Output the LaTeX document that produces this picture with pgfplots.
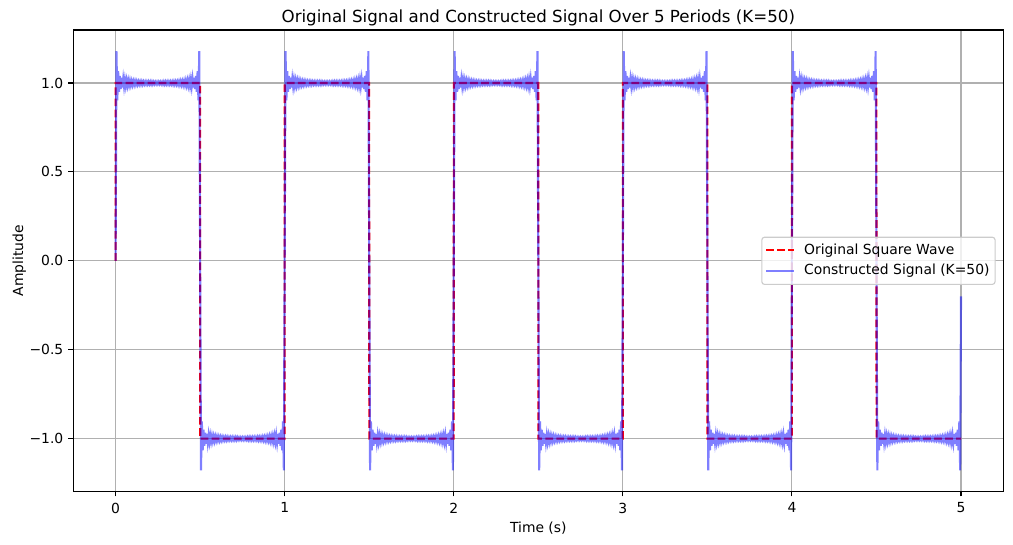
\documentclass[border=0pt]{standalone}
\usepackage{fontspec}
\setmainfont{DejaVu Sans}
\usepackage{pgfplots}
\pgfplotsset{compat=1.18}
\definecolor{gridgray}{RGB}{176,176,176}
\definecolor{legframe}{RGB}{204,204,204}
\begin{document}
\begin{tikzpicture}
\useasboundingbox (-52.8pt,-38.4pt) rectangle (676.6pt,354.0pt);
\begin{axis}[
  scale only axis,
  width=669.6pt, height=332.4pt,
  at={(0,0)}, anchor=south west,
  xmin=-0.25, xmax=5.25, ymin=-1.298, ymax=1.298,
  xtick={0,1,2,3,4,5}, xticklabels={0,1,2,3,4,5},
  ytick={-1,-0.5,0,0.5,1}, yticklabels={−1.0,−0.5,0.0,0.5,1.0},
  tick pos=left, tick align=outside, major tick length=3.5pt,
  tick style={black, line width=0.8pt},
  axis line style={black, line width=0.8pt},
  grid=major, major grid style={gridgray, line width=0.8pt},
  tick label style={font=\fontsize{10}{12}\selectfont},
  xticklabel style={inner sep=0pt, yshift=-4.3pt},
  yticklabel style={inner sep=0pt, xshift=-3.5pt},
  title={Original Signal and Constructed Signal Over 5 Periods (K=50)},
  every axis title/.style={at={(0.5,1.0165)}, anchor=base, inner sep=0pt, font=\fontsize{12}{14}\selectfont},
  xlabel={Time (s)},
  xlabel style={at={(axis description cs:0.5,-0.0887)}, anchor=base, inner sep=0pt, font=\fontsize{10}{12}\selectfont},
  ylabel={Amplitude},
  ylabel style={at={(axis description cs:-0.0541,0.5)}, anchor=base, inner sep=0pt, font=\fontsize{10}{12}\selectfont},
  legend cell align=left,
  legend image code/.code={\draw[#1] (0pt,0pt) -- (20pt,0pt);},
  legend style={at={(1,0.5)}, anchor=east, xshift=-5.5pt,
    draw=legframe, line width=0.8pt, rounded corners=2pt,
    fill=white, fill opacity=0.8, text opacity=1, draw opacity=1,
    inner xsep=2.5pt, inner ysep=3pt, row sep=2pt, column sep=5pt,
    font=\fontsize{10}{12}\selectfont,
    nodes={inner sep=1.5pt, text height=7.6pt, text depth=2.4pt}},
]
\addplot[red, line width=1.5pt, dash pattern=on 5.55pt off 2.4pt] coordinates {
(0,0)(0.0005,1)(0.4995,1)(0.5005,-1)(0.9995,-1)(1.0005,1)(1.4995,1)(1.5005,-1)(1.9995,-1)(2.0005,1)(2.4995,1)(2.5005,-1)(2.9995,-1)(3.0005,1)(3.4995,1)(3.5005,-1)(3.9995,-1)(4.0005,1)(4.4995,1)(4.5005,-1)(5,-1)
};
\addlegendentry{Original Square Wave}
\addplot[blue, line width=1.5pt, opacity=0.5] coordinates {
(0,0)(0.005,1.179)(0.01,0.903)(0.015,1.066)(0.02,0.95)(0.025,1.04)(0.03,0.966)(0.035,1.029)(0.04,0.974)(0.045,1.023)
(0.05,0.979)(0.055,1.019)(0.06,0.983)(0.065,1.016)(0.07,0.985)(0.075,1.014)(0.08,0.987)(0.085,1.013)(0.09,0.988)(0.095,1.011)
(0.1,0.989)(0.105,1.01)(0.11,0.99)(0.115,1.01)(0.12,0.991)(0.125,1.009)(0.13,0.991)(0.135,1.008)(0.14,0.992)(0.145,1.008)
(0.15,0.992)(0.155,1.008)(0.16,0.992)(0.165,1.007)(0.17,0.993)(0.175,1.007)(0.18,0.993)(0.185,1.007)(0.19,0.993)(0.195,1.007)
(0.2,0.993)(0.205,1.007)(0.21,0.993)(0.215,1.007)(0.22,0.993)(0.225,1.006)(0.23,0.994)(0.235,1.006)(0.24,0.994)(0.245,1.006)
(0.25,0.994)(0.255,1.006)(0.26,0.994)(0.265,1.006)(0.27,0.994)(0.275,1.006)(0.28,0.993)(0.285,1.007)(0.29,0.993)(0.295,1.007)
(0.3,0.993)(0.305,1.007)(0.31,0.993)(0.315,1.007)(0.32,0.993)(0.325,1.007)(0.33,0.993)(0.335,1.007)(0.34,0.992)(0.345,1.008)
(0.35,0.992)(0.355,1.008)(0.36,0.992)(0.365,1.008)(0.37,0.991)(0.375,1.009)(0.38,0.991)(0.385,1.01)(0.39,0.99)(0.395,1.01)
(0.4,0.989)(0.405,1.011)(0.41,0.988)(0.415,1.013)(0.42,0.987)(0.425,1.014)(0.43,0.985)(0.435,1.016)(0.44,0.983)(0.445,1.019)
(0.45,0.979)(0.455,1.023)(0.46,0.974)(0.465,1.029)(0.47,0.966)(0.475,1.04)(0.48,0.95)(0.485,1.066)(0.49,0.903)(0.495,1.179)
(0.5,0)(0.505,-1.179)(0.51,-0.903)(0.515,-1.066)(0.52,-0.95)(0.525,-1.04)(0.53,-0.966)(0.535,-1.029)(0.54,-0.974)(0.545,-1.023)
(0.55,-0.979)(0.555,-1.019)(0.56,-0.983)(0.565,-1.016)(0.57,-0.985)(0.575,-1.014)(0.58,-0.987)(0.585,-1.013)(0.59,-0.988)(0.595,-1.011)
(0.6,-0.989)(0.605,-1.01)(0.61,-0.99)(0.615,-1.01)(0.62,-0.991)(0.625,-1.009)(0.63,-0.991)(0.635,-1.008)(0.64,-0.992)(0.645,-1.008)
(0.65,-0.992)(0.655,-1.008)(0.66,-0.992)(0.665,-1.007)(0.67,-0.993)(0.675,-1.007)(0.68,-0.993)(0.685,-1.007)(0.69,-0.993)(0.695,-1.007)
(0.7,-0.993)(0.705,-1.007)(0.71,-0.993)(0.715,-1.007)(0.72,-0.993)(0.725,-1.006)(0.73,-0.994)(0.735,-1.006)(0.74,-0.994)(0.745,-1.006)
(0.75,-0.994)(0.755,-1.006)(0.76,-0.994)(0.765,-1.006)(0.77,-0.994)(0.775,-1.006)(0.78,-0.993)(0.785,-1.007)(0.79,-0.993)(0.795,-1.007)
(0.8,-0.993)(0.805,-1.007)(0.81,-0.993)(0.815,-1.007)(0.82,-0.993)(0.825,-1.007)(0.83,-0.993)(0.835,-1.007)(0.84,-0.992)(0.845,-1.008)
(0.85,-0.992)(0.855,-1.008)(0.86,-0.992)(0.865,-1.008)(0.87,-0.991)(0.875,-1.009)(0.88,-0.991)(0.885,-1.01)(0.89,-0.99)(0.895,-1.01)
(0.9,-0.989)(0.905,-1.011)(0.91,-0.988)(0.915,-1.013)(0.92,-0.987)(0.925,-1.014)(0.93,-0.985)(0.935,-1.016)(0.94,-0.983)(0.945,-1.019)
(0.95,-0.979)(0.955,-1.023)(0.96,-0.974)(0.965,-1.029)(0.97,-0.966)(0.975,-1.04)(0.98,-0.95)(0.985,-1.066)(0.99,-0.903)(0.995,-1.179)
(1,0)(1.005,1.179)(1.01,0.903)(1.015,1.066)(1.02,0.95)(1.025,1.04)(1.03,0.966)(1.035,1.029)(1.04,0.974)(1.045,1.023)
(1.05,0.979)(1.055,1.019)(1.06,0.983)(1.065,1.016)(1.07,0.985)(1.075,1.014)(1.08,0.987)(1.085,1.013)(1.09,0.988)(1.095,1.011)
(1.1,0.989)(1.105,1.01)(1.11,0.99)(1.115,1.01)(1.12,0.991)(1.125,1.009)(1.13,0.991)(1.135,1.008)(1.14,0.992)(1.145,1.008)
(1.15,0.992)(1.155,1.008)(1.16,0.992)(1.165,1.007)(1.17,0.993)(1.175,1.007)(1.18,0.993)(1.185,1.007)(1.19,0.993)(1.195,1.007)
(1.2,0.993)(1.205,1.007)(1.21,0.993)(1.215,1.007)(1.22,0.993)(1.225,1.006)(1.23,0.994)(1.235,1.006)(1.24,0.994)(1.245,1.006)
(1.25,0.994)(1.255,1.006)(1.26,0.994)(1.265,1.006)(1.27,0.994)(1.275,1.006)(1.28,0.993)(1.285,1.007)(1.29,0.993)(1.295,1.007)
(1.3,0.993)(1.305,1.007)(1.31,0.993)(1.315,1.007)(1.32,0.993)(1.325,1.007)(1.33,0.993)(1.335,1.007)(1.34,0.992)(1.345,1.008)
(1.35,0.992)(1.355,1.008)(1.36,0.992)(1.365,1.008)(1.37,0.991)(1.375,1.009)(1.38,0.991)(1.385,1.01)(1.39,0.99)(1.395,1.01)
(1.4,0.989)(1.405,1.011)(1.41,0.988)(1.415,1.013)(1.42,0.987)(1.425,1.014)(1.43,0.985)(1.435,1.016)(1.44,0.983)(1.445,1.019)
(1.45,0.979)(1.455,1.023)(1.46,0.974)(1.465,1.029)(1.47,0.966)(1.475,1.04)(1.48,0.95)(1.485,1.066)(1.49,0.903)(1.495,1.179)
(1.5,0)(1.505,-1.179)(1.51,-0.903)(1.515,-1.066)(1.52,-0.95)(1.525,-1.04)(1.53,-0.966)(1.535,-1.029)(1.54,-0.974)(1.545,-1.023)
(1.55,-0.979)(1.555,-1.019)(1.56,-0.983)(1.565,-1.016)(1.57,-0.985)(1.575,-1.014)(1.58,-0.987)(1.585,-1.013)(1.59,-0.988)(1.595,-1.011)
(1.6,-0.989)(1.605,-1.01)(1.61,-0.99)(1.615,-1.01)(1.62,-0.991)(1.625,-1.009)(1.63,-0.991)(1.635,-1.008)(1.64,-0.992)(1.645,-1.008)
(1.65,-0.992)(1.655,-1.008)(1.66,-0.992)(1.665,-1.007)(1.67,-0.993)(1.675,-1.007)(1.68,-0.993)(1.685,-1.007)(1.69,-0.993)(1.695,-1.007)
(1.7,-0.993)(1.705,-1.007)(1.71,-0.993)(1.715,-1.007)(1.72,-0.993)(1.725,-1.006)(1.73,-0.994)(1.735,-1.006)(1.74,-0.994)(1.745,-1.006)
(1.75,-0.994)(1.755,-1.006)(1.76,-0.994)(1.765,-1.006)(1.77,-0.994)(1.775,-1.006)(1.78,-0.993)(1.785,-1.007)(1.79,-0.993)(1.795,-1.007)
(1.8,-0.993)(1.805,-1.007)(1.81,-0.993)(1.815,-1.007)(1.82,-0.993)(1.825,-1.007)(1.83,-0.993)(1.835,-1.007)(1.84,-0.992)(1.845,-1.008)
(1.85,-0.992)(1.855,-1.008)(1.86,-0.992)(1.865,-1.008)(1.87,-0.991)(1.875,-1.009)(1.88,-0.991)(1.885,-1.01)(1.89,-0.99)(1.895,-1.01)
(1.9,-0.989)(1.905,-1.011)(1.91,-0.988)(1.915,-1.013)(1.92,-0.987)(1.925,-1.014)(1.93,-0.985)(1.935,-1.016)(1.94,-0.983)(1.945,-1.019)
(1.95,-0.979)(1.955,-1.023)(1.96,-0.974)(1.965,-1.029)(1.97,-0.966)(1.975,-1.04)(1.98,-0.95)(1.985,-1.066)(1.99,-0.903)(1.995,-1.179)
(2,0)(2.005,1.179)(2.01,0.903)(2.015,1.066)(2.02,0.95)(2.025,1.04)(2.03,0.966)(2.035,1.029)(2.04,0.974)(2.045,1.023)
(2.05,0.979)(2.055,1.019)(2.06,0.983)(2.065,1.016)(2.07,0.985)(2.075,1.014)(2.08,0.987)(2.085,1.013)(2.09,0.988)(2.095,1.011)
(2.1,0.989)(2.105,1.01)(2.11,0.99)(2.115,1.01)(2.12,0.991)(2.125,1.009)(2.13,0.991)(2.135,1.008)(2.14,0.992)(2.145,1.008)
(2.15,0.992)(2.155,1.008)(2.16,0.992)(2.165,1.007)(2.17,0.993)(2.175,1.007)(2.18,0.993)(2.185,1.007)(2.19,0.993)(2.195,1.007)
(2.2,0.993)(2.205,1.007)(2.21,0.993)(2.215,1.007)(2.22,0.993)(2.225,1.006)(2.23,0.994)(2.235,1.006)(2.24,0.994)(2.245,1.006)
(2.25,0.994)(2.255,1.006)(2.26,0.994)(2.265,1.006)(2.27,0.994)(2.275,1.006)(2.28,0.993)(2.285,1.007)(2.29,0.993)(2.295,1.007)
(2.3,0.993)(2.305,1.007)(2.31,0.993)(2.315,1.007)(2.32,0.993)(2.325,1.007)(2.33,0.993)(2.335,1.007)(2.34,0.992)(2.345,1.008)
(2.35,0.992)(2.355,1.008)(2.36,0.992)(2.365,1.008)(2.37,0.991)(2.375,1.009)(2.38,0.991)(2.385,1.01)(2.39,0.99)(2.395,1.01)
(2.4,0.989)(2.405,1.011)(2.41,0.988)(2.415,1.013)(2.42,0.987)(2.425,1.014)(2.43,0.985)(2.435,1.016)(2.44,0.983)(2.445,1.019)
(2.45,0.979)(2.455,1.023)(2.46,0.974)(2.465,1.029)(2.47,0.966)(2.475,1.04)(2.48,0.95)(2.485,1.066)(2.49,0.903)(2.495,1.179)
(2.5,0)(2.505,-1.179)(2.51,-0.903)(2.515,-1.066)(2.52,-0.95)(2.525,-1.04)(2.53,-0.966)(2.535,-1.029)(2.54,-0.974)(2.545,-1.023)
(2.55,-0.979)(2.555,-1.019)(2.56,-0.983)(2.565,-1.016)(2.57,-0.985)(2.575,-1.014)(2.58,-0.987)(2.585,-1.013)(2.59,-0.988)(2.595,-1.011)
(2.6,-0.989)(2.605,-1.01)(2.61,-0.99)(2.615,-1.01)(2.62,-0.991)(2.625,-1.009)(2.63,-0.991)(2.635,-1.008)(2.64,-0.992)(2.645,-1.008)
(2.65,-0.992)(2.655,-1.008)(2.66,-0.992)(2.665,-1.007)(2.67,-0.993)(2.675,-1.007)(2.68,-0.993)(2.685,-1.007)(2.69,-0.993)(2.695,-1.007)
(2.7,-0.993)(2.705,-1.007)(2.71,-0.993)(2.715,-1.007)(2.72,-0.993)(2.725,-1.006)(2.73,-0.994)(2.735,-1.006)(2.74,-0.994)(2.745,-1.006)
(2.75,-0.994)(2.755,-1.006)(2.76,-0.994)(2.765,-1.006)(2.77,-0.994)(2.775,-1.006)(2.78,-0.993)(2.785,-1.007)(2.79,-0.993)(2.795,-1.007)
(2.8,-0.993)(2.805,-1.007)(2.81,-0.993)(2.815,-1.007)(2.82,-0.993)(2.825,-1.007)(2.83,-0.993)(2.835,-1.007)(2.84,-0.992)(2.845,-1.008)
(2.85,-0.992)(2.855,-1.008)(2.86,-0.992)(2.865,-1.008)(2.87,-0.991)(2.875,-1.009)(2.88,-0.991)(2.885,-1.01)(2.89,-0.99)(2.895,-1.01)
(2.9,-0.989)(2.905,-1.011)(2.91,-0.988)(2.915,-1.013)(2.92,-0.987)(2.925,-1.014)(2.93,-0.985)(2.935,-1.016)(2.94,-0.983)(2.945,-1.019)
(2.95,-0.979)(2.955,-1.023)(2.96,-0.974)(2.965,-1.029)(2.97,-0.966)(2.975,-1.04)(2.98,-0.95)(2.985,-1.066)(2.99,-0.903)(2.995,-1.179)
(3,0)(3.005,1.179)(3.01,0.903)(3.015,1.066)(3.02,0.95)(3.025,1.04)(3.03,0.966)(3.035,1.029)(3.04,0.974)(3.045,1.023)
(3.05,0.979)(3.055,1.019)(3.06,0.983)(3.065,1.016)(3.07,0.985)(3.075,1.014)(3.08,0.987)(3.085,1.013)(3.09,0.988)(3.095,1.011)
(3.1,0.989)(3.105,1.01)(3.11,0.99)(3.115,1.01)(3.12,0.991)(3.125,1.009)(3.13,0.991)(3.135,1.008)(3.14,0.992)(3.145,1.008)
(3.15,0.992)(3.155,1.008)(3.16,0.992)(3.165,1.007)(3.17,0.993)(3.175,1.007)(3.18,0.993)(3.185,1.007)(3.19,0.993)(3.195,1.007)
(3.2,0.993)(3.205,1.007)(3.21,0.993)(3.215,1.007)(3.22,0.993)(3.225,1.006)(3.23,0.994)(3.235,1.006)(3.24,0.994)(3.245,1.006)
(3.25,0.994)(3.255,1.006)(3.26,0.994)(3.265,1.006)(3.27,0.994)(3.275,1.006)(3.28,0.993)(3.285,1.007)(3.29,0.993)(3.295,1.007)
(3.3,0.993)(3.305,1.007)(3.31,0.993)(3.315,1.007)(3.32,0.993)(3.325,1.007)(3.33,0.993)(3.335,1.007)(3.34,0.992)(3.345,1.008)
(3.35,0.992)(3.355,1.008)(3.36,0.992)(3.365,1.008)(3.37,0.991)(3.375,1.009)(3.38,0.991)(3.385,1.01)(3.39,0.99)(3.395,1.01)
(3.4,0.989)(3.405,1.011)(3.41,0.988)(3.415,1.013)(3.42,0.987)(3.425,1.014)(3.43,0.985)(3.435,1.016)(3.44,0.983)(3.445,1.019)
(3.45,0.979)(3.455,1.023)(3.46,0.974)(3.465,1.029)(3.47,0.966)(3.475,1.04)(3.48,0.95)(3.485,1.066)(3.49,0.903)(3.495,1.179)
(3.5,0)(3.505,-1.179)(3.51,-0.903)(3.515,-1.066)(3.52,-0.95)(3.525,-1.04)(3.53,-0.966)(3.535,-1.029)(3.54,-0.974)(3.545,-1.023)
(3.55,-0.979)(3.555,-1.019)(3.56,-0.983)(3.565,-1.016)(3.57,-0.985)(3.575,-1.014)(3.58,-0.987)(3.585,-1.013)(3.59,-0.988)(3.595,-1.011)
(3.6,-0.989)(3.605,-1.01)(3.61,-0.99)(3.615,-1.01)(3.62,-0.991)(3.625,-1.009)(3.63,-0.991)(3.635,-1.008)(3.64,-0.992)(3.645,-1.008)
(3.65,-0.992)(3.655,-1.008)(3.66,-0.992)(3.665,-1.007)(3.67,-0.993)(3.675,-1.007)(3.68,-0.993)(3.685,-1.007)(3.69,-0.993)(3.695,-1.007)
(3.7,-0.993)(3.705,-1.007)(3.71,-0.993)(3.715,-1.007)(3.72,-0.993)(3.725,-1.006)(3.73,-0.994)(3.735,-1.006)(3.74,-0.994)(3.745,-1.006)
(3.75,-0.994)(3.755,-1.006)(3.76,-0.994)(3.765,-1.006)(3.77,-0.994)(3.775,-1.006)(3.78,-0.993)(3.785,-1.007)(3.79,-0.993)(3.795,-1.007)
(3.8,-0.993)(3.805,-1.007)(3.81,-0.993)(3.815,-1.007)(3.82,-0.993)(3.825,-1.007)(3.83,-0.993)(3.835,-1.007)(3.84,-0.992)(3.845,-1.008)
(3.85,-0.992)(3.855,-1.008)(3.86,-0.992)(3.865,-1.008)(3.87,-0.991)(3.875,-1.009)(3.88,-0.991)(3.885,-1.01)(3.89,-0.99)(3.895,-1.01)
(3.9,-0.989)(3.905,-1.011)(3.91,-0.988)(3.915,-1.013)(3.92,-0.987)(3.925,-1.014)(3.93,-0.985)(3.935,-1.016)(3.94,-0.983)(3.945,-1.019)
(3.95,-0.979)(3.955,-1.023)(3.96,-0.974)(3.965,-1.029)(3.97,-0.966)(3.975,-1.04)(3.98,-0.95)(3.985,-1.066)(3.99,-0.903)(3.995,-1.179)
(4,0)(4.005,1.179)(4.01,0.903)(4.015,1.066)(4.02,0.95)(4.025,1.04)(4.03,0.966)(4.035,1.029)(4.04,0.974)(4.045,1.023)
(4.05,0.979)(4.055,1.019)(4.06,0.983)(4.065,1.016)(4.07,0.985)(4.075,1.014)(4.08,0.987)(4.085,1.013)(4.09,0.988)(4.095,1.011)
(4.1,0.989)(4.105,1.01)(4.11,0.99)(4.115,1.01)(4.12,0.991)(4.125,1.009)(4.13,0.991)(4.135,1.008)(4.14,0.992)(4.145,1.008)
(4.15,0.992)(4.155,1.008)(4.16,0.992)(4.165,1.007)(4.17,0.993)(4.175,1.007)(4.18,0.993)(4.185,1.007)(4.19,0.993)(4.195,1.007)
(4.2,0.993)(4.205,1.007)(4.21,0.993)(4.215,1.007)(4.22,0.993)(4.225,1.006)(4.23,0.994)(4.235,1.006)(4.24,0.994)(4.245,1.006)
(4.25,0.994)(4.255,1.006)(4.26,0.994)(4.265,1.006)(4.27,0.994)(4.275,1.006)(4.28,0.993)(4.285,1.007)(4.29,0.993)(4.295,1.007)
(4.3,0.993)(4.305,1.007)(4.31,0.993)(4.315,1.007)(4.32,0.993)(4.325,1.007)(4.33,0.993)(4.335,1.007)(4.34,0.992)(4.345,1.008)
(4.35,0.992)(4.355,1.008)(4.36,0.992)(4.365,1.008)(4.37,0.991)(4.375,1.009)(4.38,0.991)(4.385,1.01)(4.39,0.99)(4.395,1.01)
(4.4,0.989)(4.405,1.011)(4.41,0.988)(4.415,1.013)(4.42,0.987)(4.425,1.014)(4.43,0.985)(4.435,1.016)(4.44,0.983)(4.445,1.019)
(4.45,0.979)(4.455,1.023)(4.46,0.974)(4.465,1.029)(4.47,0.966)(4.475,1.04)(4.48,0.95)(4.485,1.066)(4.49,0.903)(4.495,1.179)
(4.5,0)(4.505,-1.179)(4.51,-0.903)(4.515,-1.066)(4.52,-0.95)(4.525,-1.04)(4.53,-0.966)(4.535,-1.029)(4.54,-0.974)(4.545,-1.023)
(4.55,-0.979)(4.555,-1.019)(4.56,-0.983)(4.565,-1.016)(4.57,-0.985)(4.575,-1.014)(4.58,-0.987)(4.585,-1.013)(4.59,-0.988)(4.595,-1.011)
(4.6,-0.989)(4.605,-1.01)(4.61,-0.99)(4.615,-1.01)(4.62,-0.991)(4.625,-1.009)(4.63,-0.991)(4.635,-1.008)(4.64,-0.992)(4.645,-1.008)
(4.65,-0.992)(4.655,-1.008)(4.66,-0.992)(4.665,-1.007)(4.67,-0.993)(4.675,-1.007)(4.68,-0.993)(4.685,-1.007)(4.69,-0.993)(4.695,-1.007)
(4.7,-0.993)(4.705,-1.007)(4.71,-0.993)(4.715,-1.007)(4.72,-0.993)(4.725,-1.006)(4.73,-0.994)(4.735,-1.006)(4.74,-0.994)(4.745,-1.006)
(4.75,-0.994)(4.755,-1.006)(4.76,-0.994)(4.765,-1.006)(4.77,-0.994)(4.775,-1.006)(4.78,-0.993)(4.785,-1.007)(4.79,-0.993)(4.795,-1.007)
(4.8,-0.993)(4.805,-1.007)(4.81,-0.993)(4.815,-1.007)(4.82,-0.993)(4.825,-1.007)(4.83,-0.993)(4.835,-1.007)(4.84,-0.992)(4.845,-1.008)
(4.85,-0.992)(4.855,-1.008)(4.86,-0.992)(4.865,-1.008)(4.87,-0.991)(4.875,-1.009)(4.88,-0.991)(4.885,-1.01)(4.89,-0.99)(4.895,-1.01)
(4.9,-0.989)(4.905,-1.011)(4.91,-0.988)(4.915,-1.013)(4.92,-0.987)(4.925,-1.014)(4.93,-0.985)(4.935,-1.016)(4.94,-0.983)(4.945,-1.019)
(4.95,-0.979)(4.955,-1.023)(4.96,-0.974)(4.965,-1.029)(4.97,-0.966)(4.975,-1.04)(4.98,-0.95)(4.985,-1.066)(4.99,-0.903)(4.995,-1.179)
(5,-0.2)
};
\addlegendentry{Constructed Signal (K=50)}
\end{axis}
\end{tikzpicture}
\end{document}
